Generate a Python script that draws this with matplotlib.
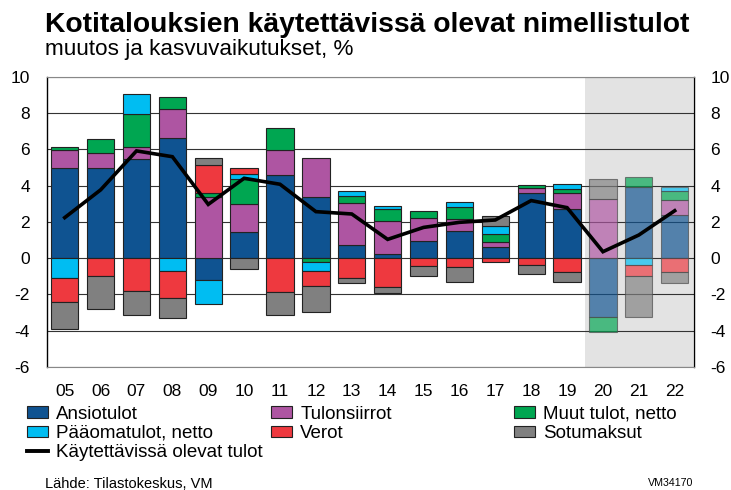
import numpy as np
import matplotlib.pyplot as plt
from matplotlib.patches import Patch
from matplotlib.lines import Line2D

plt.rcParams['font.family'] = ['Liberation Sans', 'DejaVu Sans']
plt.rcParams['axes.unicode_minus'] = False

years = ['05', '06', '07', '08', '09', '10', '11', '12', '13', '14', '15', '16', '17', '18', '19', '20', '21', '22']
ansiotulot = [4.96, 4.96, 5.48, 6.62, -1.2, 1.47, 4.59, 3.36, 0.73, 0.22, 0.97, 1.52, 0.6, 3.58, 2.72, -3.22, 3.91, 2.39]
tulonsiirrot = [1.0, 0.83, 0.64, 1.6, 3.35, 1.5, 1.38, 2.15, 2.34, 1.85, 1.27, 0.65, 0.28, 0.28, 0.86, 3.25, 0.0, 0.82]
muut_tulot = [0.18, 0.77, 1.84, 0.66, 0.25, 1.38, 1.2, -0.19, 0.36, 0.63, 0.38, 0.64, 0.46, 0.18, 0.22, -0.83, 0.59, 0.48]
paaomatulot = [-1.07, 0.0, 1.08, -0.7, -1.34, 0.3, 0.0, -0.5, 0.3, 0.2, 0.0, 0.31, 0.46, 0.0, 0.28, 0.0, -0.37, 0.22]
verot = [-1.33, -0.98, -1.79, -1.48, 1.55, 0.31, -1.88, -0.86, -1.11, -1.6, -0.41, -0.46, -0.22, -0.37, -0.74, 0.0, -0.61, -0.74]
sotumaksut = [-1.52, -1.84, -1.36, -1.14, 0.37, -0.59, -1.25, -1.43, -0.24, -0.32, -0.59, -0.83, 0.55, -0.52, -0.59, 1.12, -2.24, -0.61]
kaytettavissa = [2.24, 3.77, 5.92, 5.6, 2.97, 4.41, 4.08, 2.57, 2.44, 1.04, 1.7, 1.98, 2.11, 3.18, 2.79, 0.36, 1.28, 2.62]
ennuste_alku = 15  # 2020 onwards is forecast

series = [('Ansiotulot', ansiotulot, '#0F5391'),
          ('Tulonsiirrot', tulonsiirrot, '#AE55A2'),
          ('Muut tulot, netto', muut_tulot, '#00A651'),
          ('Pääomatulot, netto', paaomatulot, '#00BDF2'),
          ('Verot', verot, '#EE393F'),
          ('Sotumaksut', sotumaksut, '#808080')]

fig = plt.figure(figsize=(7.31, 4.90), dpi=100)
ax = fig.add_axes([0.064, 0.251, 0.885, 0.592])

x = np.arange(len(years))
ax.axvspan(ennuste_alku - 0.5, len(years) - 0.5, color='#E3E3E3', zorder=0, lw=0)

pos = np.zeros(len(years))
neg = np.zeros(len(years))
for name, vals, col in series:
    v = np.array(vals)
    bottom = np.where(v >= 0, pos, neg)
    for i in range(len(years)):
        if v[i] == 0:
            continue
        if i >= ennuste_alku:
            ax.bar(x[i], v[i], 0.76, bottom=bottom[i], color=col, alpha=0.68,
                   edgecolor='#4a4a4a', linewidth=0.8, zorder=2)
        else:
            ax.bar(x[i], v[i], 0.76, bottom=bottom[i], color=col,
                   edgecolor='#222222', linewidth=0.8, zorder=2)
    pos = pos + np.where(v > 0, v, 0)
    neg = neg + np.where(v < 0, v, 0)

ax.plot(x, kaytettavissa, color='black', lw=2.6, zorder=4, solid_joinstyle='miter')

ax.set_xlim(-0.5, len(years) - 0.47)
ax.set_ylim(-6, 10)
ax.set_yticks(np.arange(-6, 11, 2))
ax.set_xticks(x)
ax.set_xticklabels(years)
ax.yaxis.grid(True, color='#333333', lw=0.8, zorder=1)
ax.set_axisbelow(True)
ax.tick_params(axis='both', length=0, labelsize=12.5)
ax.tick_params(axis='x', pad=12)
ax.tick_params(axis='y', labelright=True, pad=12)
for s in ['top', 'bottom']:
    ax.spines[s].set_color('#888888')
for s in ['left', 'right']:
    ax.spines[s].set_color('black')
    ax.spines[s].set_linewidth(1.0)

fig.text(0.062, 0.935, 'Kotitalouksien käytettävissä olevat nimellistulot',
         fontsize=20.3, fontweight='bold', va='baseline')
fig.text(0.062, 0.888, 'muutos ja kasvuvaikutukset, %', fontsize=16.2, va='baseline')

handles = [Patch(facecolor=c, edgecolor='#222222', lw=0.8) for _, _, c in series]
line_h = Line2D([], [], color='black', lw=2.8)
cols = [([handles[0], handles[3], line_h], ['Ansiotulot', 'Pääomatulot, netto', 'Käytettävissä olevat tulot']),
        ([handles[1], handles[4]], ['Tulonsiirrot', 'Verot']),
        ([handles[2], handles[5]], ['Muut tulot, netto', 'Sotumaksut'])]
xs = [0.037, 0.371, 0.703]
for (hs, ls), xl in zip(cols, xs):
    fig.legend(hs, ls, loc='upper left', bbox_to_anchor=(xl, 0.172), frameon=False,
               fontsize=13.5, handlelength=1.1, handleheight=0.55, handletextpad=0.45,
               labelspacing=0.12, borderaxespad=0, borderpad=0)

fig.text(0.062, 0.0122, 'Lähde: Tilastokeskus, VM', fontsize=10.5, va='center')
fig.text(0.948, 0.0142, 'VM34170', fontsize=7.7, va='center', ha='right')

fig.savefig('out.png', dpi=100)
